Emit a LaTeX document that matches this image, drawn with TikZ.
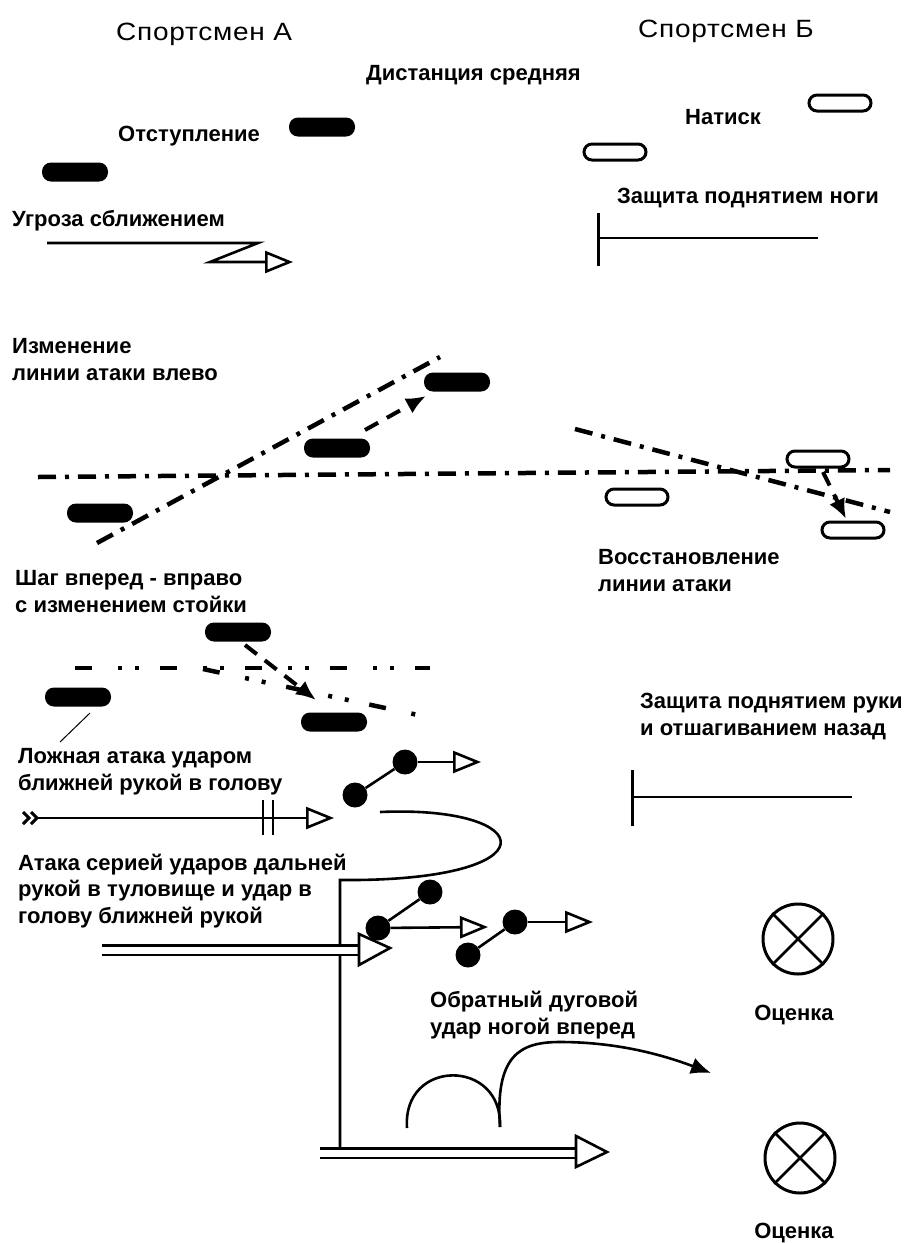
\documentclass[tikz,border=0pt]{standalone}
\usepackage{fontspec}
\setmainfont{Liberation Sans}
\newfontfamily\titlefont[LetterSpace=3,FakeStretch=1.12]{Liberation Sans}
\usetikzlibrary{arrows.meta,calc}
\begin{document}
\begin{tikzpicture}[x=1pt,y=-1pt,
  lbl/.style={font=\fontsize{22}{26.5}\selectfont\bfseries, inner sep=0pt, align=left, anchor=base west},
  ttl/.style={font=\titlefont\fontsize{25}{28}\selectfont, inner sep=0pt, anchor=base west},
  footA/.style={fill=black, rounded corners=9pt, minimum width=66pt, minimum height=19pt, inner sep=0pt},
  footB/.style={draw=black, line width=3pt, fill=white, rounded corners=8pt, minimum width=62pt, minimum height=16pt, inner sep=0pt},
  ln/.style={line width=2.6pt},
  opentip/.style={-{Triangle[open,length=28pt,width=22pt,line width=2.6pt]}},
  filltip/.style={-{Latex[length=20pt,width=17pt]}},
  dashdot/.style={line width=4.5pt, dash pattern=on 18pt off 9pt on 4pt off 9pt},
  dashdotdot/.style={line width=4.5pt, dash pattern=on 17pt off 26pt on 4pt off 13pt on 4pt off 21pt},
  dashedarrow/.style={line width=4pt, dash pattern=on 15pt off 10pt},
  dot/.style={circle, fill=black, minimum size=25pt, inner sep=0pt},
  score/.style={circle, draw=black, line width=3pt, minimum size=70pt, inner sep=0pt},
  dbl/.style={line width=2.6pt, double, double distance=7pt}
]
\useasboundingbox (0,0) rectangle (914,1243);

% ---- titles ----
\node[ttl] (tA) at (116,40) {Спортсмен А};
\node[ttl] (tB) at (638,37) {Спортсмен Б};
\node[lbl] (tD) at (366,80) {Дистанция средняя};

% ---- top section ----
\node[lbl] (lOt) at (118,141) {Отступление};
\node[lbl] (lNa) at (685,124) {Натиск};
\node[lbl] (lUg) at (12,226) {Угроза сближением};
\node[lbl] (lZn) at (617,203) {Защита поднятием ноги};

\node[footA] (a1) at (75,172) {};
\node[footA] (a2) at (322,127) {};
\node[footB] (b1) at (615,152) {};
\node[footB] (b2) at (840,103) {};

\coordinate (u0) at (47,243);
\coordinate (u1) at (258,243);
\coordinate (u2) at (210,262);
\coordinate (u3) at (293,262);
\draw[ln, opentip] (u0) -- (u1) -- (u2) -- (u3);

\coordinate (t1a) at (598,213);
\coordinate (t1b) at (598,266);
\coordinate (t1c) at (818,238);
\draw[line width=3pt] (t1a) -- (t1b);
\draw[ln] (t1a|-t1c) -- (t1c);

% ---- middle section ----
\node[lbl] (lIz) at (12,380) {Изменение\\линии атаки влево};
\node[lbl] (lVo) at (598,591) {Восстановление\\линии атаки};

\coordinate (h0) at (38,477);
\coordinate (h1) at (890,470);
\draw[dashdot] (h0) -- (h1);
\coordinate (d0) at (97,543);
\coordinate (d1) at (440,357);
\draw[dashdot] (d0) -- (d1);
\coordinate (r0) at (575,429);
\coordinate (r1) at (890,512);
\draw[dashdot] (r0) -- (r1);

\node[footA] (a3) at (100,513) {};
\node[footA] (a4) at (337,448) {};
\node[footA] (a5) at (457,382) {};
\node[footB] (b3) at (637,497) {};
\node[footB] (b4) at (818,459) {};
\node[footB] (b5) at (853,530) {};

\coordinate (da0) at (365,430);
\coordinate (da1) at (426,396);
\draw[dashedarrow, filltip] (da0) -- (da1);
\coordinate (db0) at (823,472);
\coordinate (db1) at (846,519);
\draw[dashedarrow, filltip] (db0) -- (db1);

% ---- step section ----
\node[lbl] (lSh) at (15,612) {Шаг вперед - вправо\\с изменением стойки};
\node[lbl] (lZr) at (640,735) {Защита поднятием руки\\и отшагиванием назад};

\coordinate (s0) at (75,668);
\coordinate (s1) at (430,668);
\draw[dashdotdot] (s0) -- (s1);
\coordinate (s2) at (203,669);
\coordinate (s3) at (418,715);
\draw[dashdotdot] (s2) -- (s3);

\node[footA] (a6) at (238,632) {};
\node[footA] (a7) at (78,697) {};
\node[footA] (a8) at (334,722) {};

\coordinate (sa0) at (245,645);
\coordinate (sa1) at (316,700);
\draw[dashedarrow, filltip] (sa0) -- (sa1);
\coordinate (k0) at (90,713);
\coordinate (k1) at (60,742);
\draw[line width=1pt] (k0) -- (k1);

\coordinate (t2a) at (632,770);
\coordinate (t2b) at (632,826);
\coordinate (t2c) at (852,797);
\draw[line width=3pt] (t2a) -- (t2b);
\draw[ln] (t2a|-t2c) -- (t2c);

% ---- feint ----
\node[lbl] (lLo) at (18,790) {Ложная атака ударом\\ближней рукой в голову};
\coordinate (f0) at (36,818);
\coordinate (f1) at (334,818);
\draw[ln, opentip] (f0) -- (f1);
\draw[line width=3pt] (23,812) -- (29,818) -- (23,824);
\draw[line width=3pt] (31,812) -- (37,818) -- (31,824);
\draw[line width=2.6pt] (263,800) -- (263,835);
\draw[line width=2.6pt] (273,800) -- (273,835);

\node[dot] (p1a) at (355,795) {};
\node[dot] (p1b) at (405,762) {};
\coordinate (p1c) at (481,762);
\draw[ln] (p1a) -- (p1b);
\draw[ln, opentip] (p1b) -- (p1c);

% loop and vertical
\coordinate (lp0) at (380,812);
\coordinate (v0) at (340,880);
\coordinate (v1) at (340,1148);
\draw[ln] (lp0) .. controls (540,805) and (555,882) .. (v0) -- (v1);

% ---- attack series ----
\node[lbl] (lAt) at (18,923) {Атака серией ударов дальней\\рукой в туловище и удар в\\голову ближней рукой};
\coordinate (g0) at (102,950);
\coordinate (g1) at (359,950);
\draw[dbl] (g0) -- (g1);
\coordinate (g2) at (390,948);
\draw[ln, fill=white] (g1) ++(0,-16) -- (g2) -- ($(g1)+(0,15)$) -- cycle;

\node[dot] (p2a) at (378,928) {};
\node[dot] (p2b) at (430,892) {};
\coordinate (p2c) at (488,927);
\draw[ln] (p2a) -- (p2b);
\draw[ln, opentip] (p2a) -- (p2c);

\node[dot] (p3a) at (468,955) {};
\node[dot] (p3b) at (515,922) {};
\coordinate (p3c) at (593,922);
\draw[ln] (p3a) -- (p3b);
\draw[ln, opentip] (p3b) -- (p3c);

% ---- kick ----
\node[lbl] (lOb) at (430,1034) {Обратный дуговой\\удар ногой вперед};
\coordinate (k2a) at (407,1128);
\coordinate (k2b) at (500,1127);
\coordinate (k2c) at (560,1042);
\coordinate (k2d) at (711,1073);
\draw[ln] (k2a) .. controls (402,1058) and (503,1058) .. (k2b);
\draw[ln, filltip] (k2b) .. controls (495,1055) and (520,1042) .. (k2c)
      .. controls (605,1042) and (650,1050) .. (k2d);

\coordinate (e0) at (320,1153);
\coordinate (e1) at (576,1153);
\coordinate (e2) at (607,1152);
\draw[dbl] (e0) -- (e1);
\draw[ln, fill=white] (e1) ++(0,-17) -- (e2) -- ($(e1)+(0,14)$) -- cycle;

% ---- scores ----
\node[score] (c1) at (798,939) {};
\draw[ln] (c1.north west) -- (c1.south east) (c1.north east) -- (c1.south west);
\node[lbl, anchor=base] (o1) at (794,1020) {Оценка};
\node[score] (c2) at (800,1158) {};
\draw[ln] (c2.north west) -- (c2.south east) (c2.north east) -- (c2.south west);
\node[lbl, anchor=base] (o2) at (794,1238) {Оценка};
\end{tikzpicture}
\end{document}
